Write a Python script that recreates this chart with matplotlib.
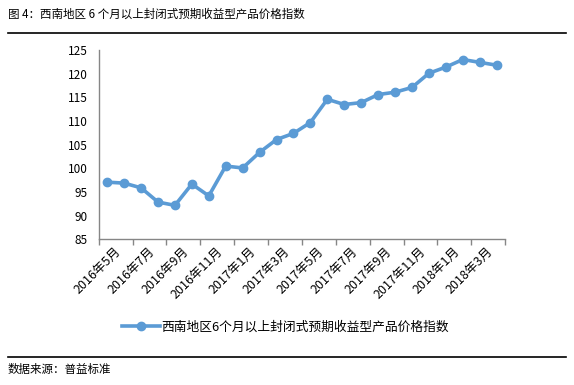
import numpy as np
import matplotlib
matplotlib.use("Agg")
import matplotlib.pyplot as plt

plt.rcParams['font.family'] = ['Noto Sans CJK SC', 'DejaVu Sans']

months = ["2016年5月", "2016年6月", "2016年7月", "2016年8月", "2016年9月", "2016年10月",
          "2016年11月", "2016年12月", "2017年1月", "2017年2月", "2017年3月", "2017年4月",
          "2017年5月", "2017年6月", "2017年7月", "2017年8月", "2017年9月", "2017年10月",
          "2017年11月", "2017年12月", "2018年1月", "2018年2月", "2018年3月", "2018年4月"]
index_vals = [97.1, 96.9, 95.9, 92.9, 92.2, 96.7, 94.2, 100.5, 100.1, 103.4, 106.1, 107.4,
              109.7, 114.6, 113.5, 113.9, 115.6, 116.1, 117.1, 120.1, 121.4, 123.0, 122.4, 121.8]
series_name = "西南地区6个月以上封闭式预期收益型产品价格指数"
title = "图 4：西南地区 6 个月以上封闭式预期收益型产品价格指数"
source = "数据来源：普益标准"

blue = "#5B9BD5"
gray = "#868686"

fig = plt.figure(figsize=(5.74, 3.85), dpi=100)
ax = fig.add_axes([0.172, 0.378, 0.708, 0.492])

x = np.arange(len(months))
ax.plot(x, index_vals, color=blue, lw=2.6, marker="o", ms=6, label=series_name)

ax.set_xlim(-0.5, len(months) - 0.5)
ax.set_ylim(85, 125)
ax.set_yticks(np.arange(85, 126, 5))
ax.tick_params(axis="y", length=0, labelsize=8.5, pad=8, colors="black")

ax.set_xticks(np.arange(-0.5, len(months), 2))
ax.set_xticklabels([])
ax.tick_params(axis="x", length=4, color=gray, width=1)
for i in range(0, len(months), 2):
    ax.text(i + 0.4, 83.8, months[i], rotation=45, ha="right", va="top",
            fontsize=9, rotation_mode="anchor")

for s in ["top", "right"]:
    ax.spines[s].set_visible(False)
for s in ["left", "bottom"]:
    ax.spines[s].set_color(gray)
    ax.spines[s].set_linewidth(1)

fig.legend(loc="center", bbox_to_anchor=(0.497, 0.151), frameon=False, fontsize=9.2,
           handlelength=3.0, handletextpad=0.1)

fig.text(0.014, 0.962, title, fontsize=8.3, va="center", ha="left")
fig.add_artist(plt.Line2D([0.014, 0.986], [0.913, 0.913], color="black", lw=1.2))
fig.add_artist(plt.Line2D([0.014, 0.986], [0.073, 0.073], color="black", lw=1.2))
fig.text(0.014, 0.04, source, fontsize=8.3, va="center", ha="left")

fig.savefig("out.png", dpi=100)
